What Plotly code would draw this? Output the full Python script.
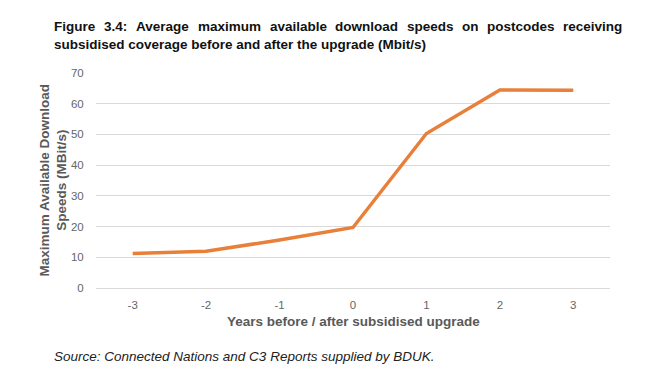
import plotly.graph_objects as go

years = ["-3", "-2", "-1", "0", "1", "2", "3"]
speeds = [11.2, 12.0, 15.6, 19.7, 50.3, 64.5, 64.4]
y_ticks = [0, 10, 20, 30, 40, 50, 60, 70]

title_line1_words = ["Figure", "3.4:", "Average", "maximum", "available",
                     "download", "speeds", "on", "postcodes", "receiving"]
title_line1_x = [52, 102.0, 133.9, 195.9, 267.6, 333.2, 404.9, 460.1, 485.3, 561.4]
title_line2 = "subsidised coverage before and after the upgrade (Mbit/s)"
source_text = "Source: Connected Nations and C3 Reports supplied by BDUK."

# layout geometry (the page has an 8px body margin)
OFF = 8
W, H = 644, 368
L, R, T, B = 88, 42, 65, 88
PW, PH = W - L - R, H - T - B


def px(page_x):
    return (page_x - OFF - L) / PW


def py(page_y):
    return (H - B - (page_y - OFF)) / PH


fig = go.Figure()
fig.add_trace(go.Scatter(
    x=years, y=speeds, mode="lines",
    line=dict(color="#E8803A", width=3.5),
    hoverinfo="skip", showlegend=False,
))

annotations = []
for w, xp in zip(title_line1_words, title_line1_x):
    annotations.append(dict(
        text="<b>" + w + "</b>", xref="paper", yref="paper", x=px(xp), y=py(26),
        xanchor="left", yanchor="middle", showarrow=False,
        font=dict(size=13.5, color="#111111")))
annotations.append(dict(
    text="<b>" + title_line2 + "</b>", xref="paper", yref="paper", x=px(52), y=py(44),
    xanchor="left", yanchor="middle", showarrow=False,
    font=dict(size=13.5, color="#111111")))
annotations.append(dict(
    text="<i>" + source_text + "</i>", xref="paper", yref="paper", x=px(52), y=py(356),
    xanchor="left", yanchor="middle", showarrow=False,
    font=dict(size=13.5, color="#222222")))
annotations.append(dict(
    text="<b>Maximum Available Download<br>Speeds (MBit/s)</b>", xref="paper", yref="paper",
    x=px(53), y=py(180.5), xanchor="center", yanchor="middle", textangle=-90,
    showarrow=False, font=dict(size=13.5, color="#595959")))
annotations.append(dict(
    text="<b>Years before / after subsidised upgrade</b>", xref="paper", yref="paper",
    x=px(353), y=py(321), xanchor="center", yanchor="middle",
    showarrow=False, font=dict(size=13.5, color="#595959")))

fig.update_layout(
    width=W, height=H,
    margin=dict(l=L, r=R, t=T, b=B, autoexpand=False),
    paper_bgcolor="white", plot_bgcolor="white",
    font=dict(family="Liberation Sans, Arial, sans-serif"),
    xaxis=dict(
        type="category", range=[-0.5, 6.5], showgrid=False, zeroline=False, showline=False,
        ticks="outside", ticklen=6, tickcolor="rgba(0,0,0,0)",
        tickfont=dict(size=11.5, color="#666666"),
    ),
    yaxis=dict(
        range=[0, 70], tickvals=y_ticks, showgrid=True, gridcolor="#d9d9d9",
        gridwidth=1, zeroline=True, zerolinecolor="#d9d9d9", zerolinewidth=1, showline=False,
        ticks="outside", ticklen=9, tickcolor="rgba(0,0,0,0)",
        tickfont=dict(size=11.5, color="#666666"),
    ),
    annotations=annotations,
)

fig.write_html("out.html")
